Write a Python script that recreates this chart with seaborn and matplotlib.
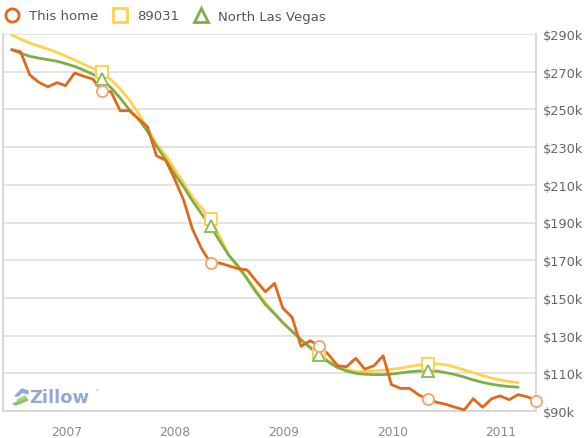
import matplotlib
matplotlib.use("Agg")
import matplotlib.pyplot as plt
import matplotlib.transforms as mtransforms
from matplotlib.lines import Line2D
from matplotlib.patches import Polygon
import numpy as np
import pandas as pd
import seaborn as sns

# ---------------- data (values in $ thousands) ----------------
home_start, home_end = "2006-09-01", "2011-07-01"
area_start, area_end = "2006-09-01", "2011-05-01"

this_home = [
    281.7, 280.6, 268.3, 264.4,                                             # 2006 Sep-Dec
    262.0, 264.2, 262.6, 269.3, 267.6, 266.1, 259.8, 259.4, 249.3, 249.3, 245.0, 241.0,  # 2007
    225.4, 223.0, 213.5, 202.0, 186.5, 176.0, 168.5, 168.5, 167.0, 165.5, 164.8, 159.0,  # 2008
    153.3, 157.7, 144.5, 139.7, 124.3, 127.3, 124.5, 120.0, 114.0, 113.5, 118.0, 112.2,  # 2009
    114.0, 119.3, 104.0, 102.0, 102.0, 98.5, 96.4, 94.6, 93.5, 92.0, 90.6, 96.5,         # 2010
    92.0, 96.5, 98.0, 96.0, 98.7, 97.5, 95.5,                                           # 2011
]
zip_89031 = [
    289.5, 287.3, 285.2, 283.6, 282.0, 280.2, 278.3, 276.2, 274.0, 271.8, 269.7, 265.8,
    260.9, 255.2, 248.0, 240.0, 231.5, 225.8, 218.5, 211.0, 203.5, 197.5, 191.9, 182.5,
    172.5, 166.0, 160.5, 154.0, 147.5, 142.0, 137.0, 132.5, 128.0, 124.0, 120.2, 116.5,
    114.0, 112.0, 111.0, 110.8, 111.2, 111.6, 112.2, 112.7, 113.6, 114.4, 114.9, 115.0,
    114.5, 113.3, 111.8, 110.3, 108.8, 107.5, 106.5, 105.6, 105.0,
]
north_las_vegas = [
    281.7, 279.8, 278.2, 277.2, 276.4, 275.5, 274.3, 272.8, 270.9, 268.6, 266.1, 261.5,
    256.0, 250.0, 245.0, 238.5, 230.5, 223.3, 216.0, 209.0, 201.5, 194.5, 188.0, 180.0,
    172.5, 167.0, 160.0, 153.0, 146.5, 141.5, 136.8, 132.2, 127.8, 123.5, 119.7, 116.0,
    113.0, 111.2, 110.0, 109.5, 109.3, 109.3, 109.6, 110.2, 110.8, 111.2, 111.4, 111.2,
    110.3, 109.3, 108.0, 106.5, 105.2, 104.2, 103.5, 103.0, 102.6,
]
series_names = ["This home", "89031", "North Las Vegas"]
year_ticks = [2007, 2008, 2009, 2010, 2011]
y_ticks = [90, 110, 130, 150, 170, 190, 210, 230, 250, 270, 290]

# ---------------- styling ----------------
c_home, c_zip, c_city = "#E0691C", "#FFD24A", "#7EAF47"
m_home, m_zip, m_city = "#F0A878", "#FFD24A", "#8DBD5C"
grid_c, axis_c = "#DEDEDE", "#D2D2D2"
text_c = "#666666"

home_dates = pd.date_range(home_start, home_end, freq="MS")
area_dates = pd.date_range(area_start, area_end, freq="MS")
df = pd.concat([
    pd.DataFrame({"date": home_dates, "value": this_home, "series": series_names[0]}),
    pd.DataFrame({"date": area_dates, "value": zip_89031, "series": series_names[1]}),
    pd.DataFrame({"date": area_dates, "value": north_las_vegas, "series": series_names[2]}),
], ignore_index=True)

sns.set_theme(style="white")
plt.rcParams["font.family"] = ["DejaVu Sans"]

W, H = 586, 439
fig = plt.figure(figsize=(W / 100, H / 100), dpi=100)
ax = fig.add_axes([3 / W, 1 - 412 / H, (536 - 3) / W, (412 - 35) / H])

palette = {series_names[0]: c_home, series_names[1]: c_zip, series_names[2]: c_city}
for name, z in [(series_names[1], 2), (series_names[2], 3), (series_names[0], 4)]:
    sub = df[df["series"] == name]
    sns.lineplot(data=sub, x="date", y="value", color=palette[name], lw=2.0,
                 ax=ax, zorder=z, legend=False, estimator=None, sort=False)

# hollow markers each July
mk = df[df["date"].dt.month == 7]
style = {series_names[0]: ("o", m_home, 8.0), series_names[1]: ("s", m_zip, 9.0),
         series_names[2]: ("^", m_city, 8.5)}
for name, z in [(series_names[1], 5), (series_names[2], 6), (series_names[0], 7)]:
    sub = mk[mk["series"] == name]
    marker, col, ms = style[name]
    ax.plot(sub["date"], sub["value"], ls="none", marker=marker, ms=ms, mfc="white",
            mec=col, mew=1.4, zorder=z, clip_on=False)

# axes
ax.set_xlim(pd.Timestamp("2006-08-03"), pd.Timestamp("2011-06-30"))
ax.set_ylim(90, 290)
ax.set_xlabel("")
ax.set_ylabel("")
ax.yaxis.tick_right()
ax.set_yticks(y_ticks)
ax.set_yticklabels([f"${v}k" for v in y_ticks])
ax.tick_params(axis="y", length=0, pad=5, labelsize=9.3, labelcolor=text_c)
ax.set_xticks([pd.Timestamp(f"{y}-01-01") for y in year_ticks])
ax.set_xticklabels([str(y) for y in year_ticks])
ax.tick_params(axis="x", length=8.5, width=1, color=axis_c, pad=1.5, labelsize=8.8,
               labelcolor="#8A8A8A")
offset = mtransforms.ScaledTranslation(3 / 100, 0, fig.dpi_scale_trans)
for lab in ax.get_xticklabels():
    lab.set_horizontalalignment("left")
    lab.set_transform(lab.get_transform() + offset)
ax.grid(axis="y", color=grid_c, lw=1.2)
ax.grid(axis="x", visible=False)
for s in ["left", "right", "bottom"]:
    ax.spines[s].set_visible(True)
    ax.spines[s].set_color(axis_c)
    ax.spines[s].set_linewidth(1.2)
ax.spines["top"].set_visible(False)

# legend
handles = [
    Line2D([], [], ls="none", marker="o", ms=9.5, mfc="white", mec=c_home, mew=2.0),
    Line2D([], [], ls="none", marker="s", ms=9.5, mfc="white", mec=c_zip, mew=2.0),
    Line2D([], [], ls="none", marker="^", ms=10, mfc="white", mec=c_city, mew=2.0),
]
leg = fig.legend(handles, series_names, loc="center left", ncol=3,
                 bbox_to_anchor=(5 / W, 1 - 17 / H), frameon=False, fontsize=9.5,
                 handlelength=1.0, handletextpad=0.8, columnspacing=1.15, borderpad=0,
                 borderaxespad=0)
for t in leg.get_texts():
    t.set_color("#555555")

# Zillow logo (text plus small mark)
fig.text(29 / W, 1 - 398 / H, "Zillow", fontsize=13, fontweight="bold", color="#93A8D6",
         ha="left", va="center")
fig.text(95 / W, 1 - 391 / H, "•", fontsize=3.5, color="#93A8D6", ha="left", va="center")
def px(x, y):
    return (x / W, 1 - y / H)
fig.patches.append(Polygon([px(15, 397), px(22, 390), px(28, 392), px(28, 395), px(22, 393), px(18, 397)],
                           closed=True, transform=fig.transFigure, color="#93A8D6", figure=fig))
fig.patches.append(Polygon([px(13, 405), px(26, 399), px(28, 401), px(16, 406)],
                           closed=True, transform=fig.transFigure, color="#8CC46A", figure=fig))
fig.patches.append(Polygon([px(17, 401), px(25, 397), px(26, 398.5), px(19, 402)],
                           closed=True, transform=fig.transFigure, color="#A8D48A", figure=fig))

fig.savefig("out.png", dpi=100, facecolor="white")
